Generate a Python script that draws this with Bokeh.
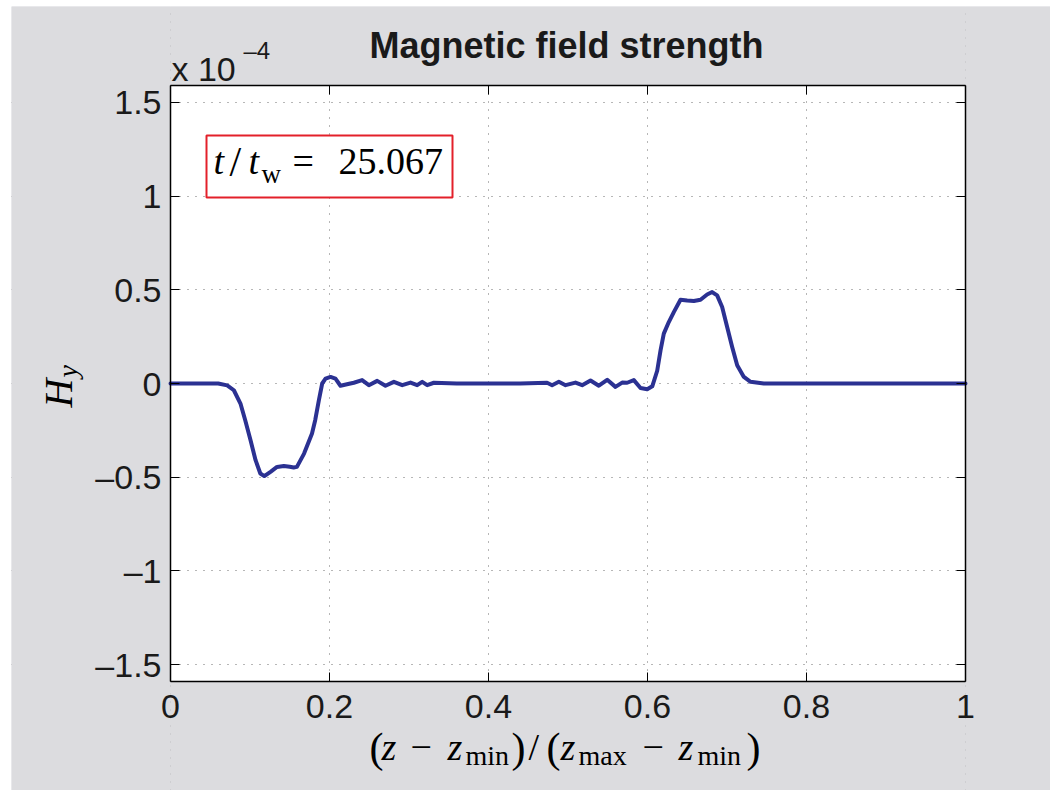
import math
from bokeh.plotting import figure
from bokeh.models import Range1d, LinearAxis, FixedTicker, Label, BoxAnnotation
from bokeh.embed import file_html
from bokeh.resources import INLINE

# ---- data (H_y in units of 1e-4) ----
z = [0.0, 0.03, 0.06, 0.0713, 0.0797, 0.088, 0.094, 0.1006, 0.107, 0.113,
     0.118, 0.1258, 0.134, 0.1426, 0.150, 0.155, 0.159, 0.168, 0.178, 0.182,
     0.1866, 0.1908, 0.195, 0.2013, 0.2075, 0.2138, 0.222, 0.2306, 0.241, 0.2495,
     0.26, 0.2704, 0.281, 0.2915, 0.3019, 0.3103, 0.3166, 0.3229, 0.3313, 0.36,
     0.40, 0.44, 0.4737, 0.48, 0.4885, 0.4969, 0.5094, 0.5178, 0.5283, 0.5388,
     0.5493, 0.5597, 0.5681, 0.5744, 0.5828, 0.5912, 0.5996, 0.606, 0.6122, 0.6164,
     0.6205, 0.6268, 0.6331, 0.6415, 0.6499, 0.6583, 0.6667, 0.675, 0.6813, 0.6876,
     0.6939, 0.7002, 0.7065, 0.7128, 0.7212, 0.7296, 0.7463, 0.8, 0.9, 1.0]
hy = [0, 0, 0, -0.01, -0.036, -0.107, -0.196, -0.302, -0.409, -0.48,
      -0.494, -0.471, -0.445, -0.44, -0.444, -0.448, -0.445, -0.374, -0.267, -0.196,
      -0.09, 0.0, 0.026, 0.035, 0.026, -0.012, -0.004, 0.004, 0.018, -0.009,
      0.014, -0.012, 0.009, -0.009, 0.005, -0.009, 0.009, -0.009, 0.004, 0,
      0, 0, 0.004, -0.009, 0.009, -0.009, 0.005, -0.009, 0.016, -0.012,
      0.02, -0.018, 0.005, 0.004, 0.018, -0.024, -0.031, -0.015, 0.068, 0.177,
      0.266, 0.328, 0.381, 0.447, 0.443, 0.44, 0.447, 0.475, 0.488, 0.47,
      0.408, 0.301, 0.195, 0.097, 0.035, 0.009, 0, 0, 0, 0]

x_ticks = [0, 0.2, 0.4, 0.6, 0.8, 1.0]
x_tick_labels = ["0", "0.2", "0.4", "0.6", "0.8", "1"]
y_ticks = [-1.5, -1, -0.5, 0, 0.5, 1, 1.5]
y_tick_labels = ["\u20131.5", "\u20131", "\u20130.5", "0", "0.5", "1", "1.5"]
x_lim = (0.0, 1.0)
y_lim = (-1.59, 1.59)
title_text = "Magnetic field strength"
exp_base = "x 10"
exp_power = "\u20134"
time_value = "25.067"

BG = "#dcdcdf"
SANS = "Liberation Sans"
SERIF = "Liberation Serif"
TXT = "#1a1a1a"

# ---- layout (page pixels) ----
OFF_X, OFF_Y = 11, 6            # white page margin
FIG_W, FIG_H = 1039, 784
BOX_L, BOX_R, BOX_T, BOX_B = 170, 965, 85, 681   # inner axes box on the page

l, r = BOX_L - OFF_X, BOX_R - OFF_X
t, b = BOX_T - OFF_Y, BOX_B - OFF_Y
xs = (x_lim[1] - x_lim[0]) / (r - l)
ys = (y_lim[1] - y_lim[0]) / (b - t)
x_range = Range1d(x_lim[0] - l * xs, x_lim[1] + (FIG_W - r) * xs)
y_range = Range1d(y_lim[0] - (FIG_H - b) * ys, y_lim[1] + t * ys)

p = figure(width=FIG_W, height=FIG_H, min_border=0,
           min_border_left=0, min_border_right=0, min_border_top=0, min_border_bottom=0,
           x_range=x_range, y_range=y_range,
           output_backend="svg", toolbar_location=None,
           background_fill_color=BG, border_fill_color=BG,
           margin=(OFF_Y, 0, 0, OFF_X))
p.outline_line_color = None

# white axes area (below the grid)
p.add_layout(BoxAnnotation(left=x_lim[0], right=x_lim[1], bottom=y_lim[0], top=y_lim[1],
                           fill_color="white", fill_alpha=1, line_color=None, level="image"))

for g in (p.xgrid, p.ygrid):
    g.grid_line_color = "#6f6f6f"
    g.grid_line_dash = "1 7"
    g.grid_line_width = 1
p.xgrid.ticker = FixedTicker(ticks=x_ticks)
p.ygrid.ticker = FixedTicker(ticks=y_ticks)

# grey masks outside the axes area (above the grid)
for (bl, br, bb, bt) in [(x_range.start, x_lim[0], y_range.start, y_range.end),
                         (x_lim[1], x_range.end, y_range.start, y_range.end),
                         (x_lim[0], x_lim[1], y_lim[1], y_range.end),
                         (x_lim[0], x_lim[1], y_range.start, y_lim[0])]:
    p.add_layout(BoxAnnotation(left=bl, right=br, bottom=bb, top=bt, fill_color=BG,
                               fill_alpha=1, line_color=None, level="underlay"))

def style_axis(ax, ticks, bounds, loc, labels=None):
    ax.ticker = FixedTicker(ticks=ticks)
    ax.bounds = bounds
    ax.fixed_location = loc
    ax.major_tick_in = 9
    ax.major_tick_out = 0
    ax.minor_tick_line_color = None
    ax.major_tick_line_color = "black"
    ax.major_tick_line_width = 1
    ax.axis_line_color = "black"
    ax.axis_line_width = 1.5
    if labels is None:
        ax.major_label_overrides = {tk: "" for tk in ticks}
    else:
        ax.major_label_overrides = dict(zip(ticks, labels))
        ax.major_label_text_font = SANS
        ax.major_label_text_font_size = "34px"
        ax.major_label_text_color = TXT

style_axis(p.xaxis[0], x_ticks, x_lim, y_lim[0], x_tick_labels)
p.xaxis[0].major_label_standoff = 13
style_axis(p.yaxis[0], y_ticks, y_lim, x_lim[0], y_tick_labels)
p.yaxis[0].major_label_standoff = 9

top_ax = LinearAxis()
style_axis(top_ax, x_ticks, x_lim, y_lim[1])
p.add_layout(top_ax, "above")
right_ax = LinearAxis()
style_axis(right_ax, y_ticks, y_lim, x_lim[1])
p.add_layout(right_ax, "right")

p.line(z, hy, line_color="#2b3192", line_width=4, line_join="round", line_cap="round")

def lab(text, px, base_py, size, font=SERIF, style="normal", align="left", rot=False, color="black"):
    # place by page-pixel baseline; label anchored at text middle
    if rot:
        sx = (px - 0.35 * size) - OFF_X
        sy = (OFF_Y + FIG_H) - base_py
    else:
        sx = px - OFF_X
        sy = (OFF_Y + FIG_H) - (base_py - 0.35 * size)
    p.add_layout(Label(x=sx, y=sy, x_units="screen", y_units="screen", text=text,
                       text_font=font, text_font_size=f"{size}px", text_font_style=style,
                       text_align=align, text_baseline="middle",
                       angle=(math.pi / 2 if rot else 0.0), text_color=color))

# title and exponent
lab(title_text, 566, 58, 36, font=SANS, style="bold", align="center", color=TXT)
lab(exp_base, 171, 80, 34, font=SANS, color=TXT)
lab(exp_power, 243, 58, 24, font=SANS, color=TXT)

# annotation box
p.add_layout(BoxAnnotation(left=206 - OFF_X, right=452 - OFF_X,
                           top=(OFF_Y + FIG_H) - 135, bottom=(OFF_Y + FIG_H) - 197,
                           left_units="screen", right_units="screen",
                           top_units="screen", bottom_units="screen",
                           fill_color="white", fill_alpha=1,
                           line_color="#e3202a", line_width=2, line_alpha=1))
lab("t", 213, 174, 38, style="italic")
lab("/", 229, 176, 42)
lab("t", 248, 174, 38, style="italic")
lab("w", 261, 183, 27)
lab("=", 292, 174, 38)
lab(time_value, 338, 174, 38)

# x-axis label: (z - z_min)/(z_max - z_min)
for txt, xpx, kind in [("(", 369, "p"), ("z", 381, "i"), ("\u2212", 410, "r"), ("z", 447, "i"),
                       ("min", 465, "s"), (")", 511, "p"), ("/", 528, "r"), ("(", 546, "p"),
                       ("z", 560, "i"), ("max", 578, "s"), ("\u2212", 642, "r"), ("z", 678, "i"),
                       ("min", 697, "s"), (")", 746, "p")]:
    if kind == "s":
        lab(txt, xpx, 765, 28)
    elif kind == "p":
        lab(txt, xpx, 762, 42)
    else:
        lab(txt, xpx, 760, 38, style="italic" if kind == "i" else "normal")

# y-axis label: H_y (rotated)
lab("H", 72, 407, 40, style="italic", rot=True)
lab("y", 77, 377, 28, style="italic", rot=True)

open("out.html", "w").write(file_html(p, INLINE))
